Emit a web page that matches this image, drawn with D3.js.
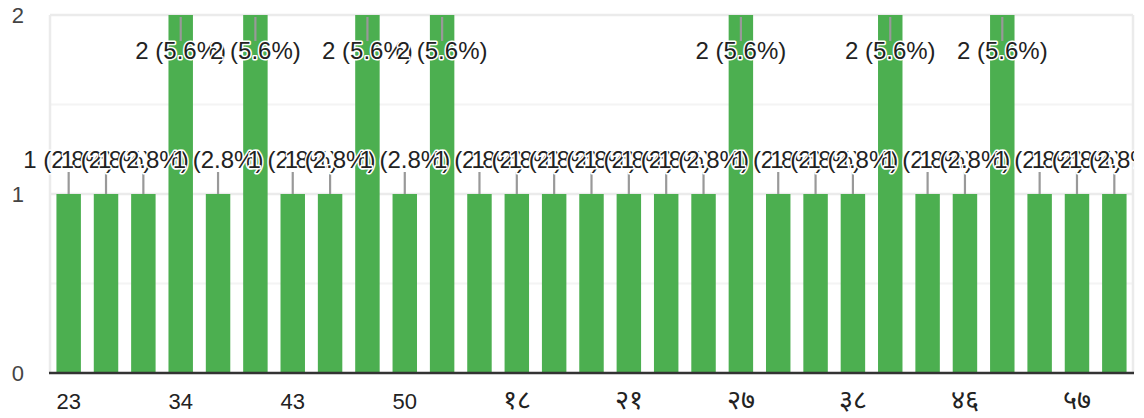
<!DOCTYPE html>
<html>
<head>
<meta charset="utf-8">
<script src="https://cdn.jsdelivr.net/npm/d3@7"></script>
<style>
  body { margin: 0; background: #fff; }
  svg { display: block; font-family: Arial, "Liberation Sans", sans-serif; }
</style>
</head>
<body>
<div id="chart"></div>
<script>
const categories = ["23", "25", "28", "34", "35", "40", "43", "45", "48", "50", "55", "60",
    "१८", "१९", "२०", "२१", "२२", "२५", "२७", "३०", "३५", "३८", "४०", "४५", "४६", "५०", "५५", "५७", "६०"];
const counts = [1, 1, 1, 2, 1, 2, 1, 1, 2, 1, 2, 1, 1, 1, 1, 1, 1, 1, 2, 1, 1, 1, 2, 1, 1, 2, 1, 1, 1];
const yTicks = [0, 1, 2];
const yMinorTicks = [0.5, 1.5];

const width = 1144, height = 418;
const area = { left: 50, right: 1133, top: 15, bottom: 373 };

const data = categories.map((c, i) => ({ label: c, value: counts[i] }));
const total = d3.sum(counts);

const svg = d3.select("#chart")
    .append("svg")
    .attr("width", width)
    .attr("height", height);

const x = d3.scaleBand()
    .domain(data.map(d => d.label))
    .range([area.left, area.right])
    .paddingInner(0.345)
    .paddingOuter(0.1725);

const y = d3.scaleLinear()
    .domain([0, 2])
    .range([area.bottom, area.top]);

// minor gridlines
svg.append("g")
    .selectAll("line")
    .data(yMinorTicks)
    .enter().append("line")
    .attr("x1", area.left).attr("x2", area.right)
    .attr("y1", d => y(d)).attr("y2", d => y(d))
    .attr("stroke", "#f4f4f4")
    .attr("stroke-width", 2);

// major gridlines
svg.append("g")
    .selectAll("line")
    .data(yTicks.filter(d => d > 0))
    .enter().append("line")
    .attr("x1", area.left).attr("x2", area.right)
    .attr("y1", d => y(d)).attr("y2", d => y(d))
    .attr("stroke", "#ebebeb")
    .attr("stroke-width", 2.5);

// side frame
svg.append("g")
    .selectAll("line")
    .data([area.left, area.right])
    .enter().append("line")
    .attr("x1", d => d).attr("x2", d => d)
    .attr("y1", area.top).attr("y2", area.bottom)
    .attr("stroke", "#ebebeb")
    .attr("stroke-width", 2.5);

// bars
svg.append("g")
    .selectAll("rect")
    .data(data)
    .enter().append("rect")
    .attr("x", d => x(d.label))
    .attr("width", x.bandwidth())
    .attr("y", d => y(d.value))
    .attr("height", d => area.bottom - y(d.value))
    .attr("fill", "#4caf50");

// baseline
svg.append("line")
    .attr("x1", area.left - 1).attr("x2", area.right + 1)
    .attr("y1", y(0)).attr("y2", y(0))
    .attr("stroke", "#333")
    .attr("stroke-width", 2.5);

// y axis labels
svg.append("g")
    .selectAll("text")
    .data(yTicks)
    .enter().append("text")
    .attr("x", 24)
    .attr("y", d => y(d))
    .attr("dy", "0.35em")
    .attr("text-anchor", "end")
    .attr("font-size", 22)
    .attr("fill", "#444")
    .text(d => d);

// x axis labels, every third category (devanagari fallback font runs small)
svg.append("g")
    .selectAll("text")
    .data(data.filter((d, i) => i % 3 === 0))
    .enter().append("text")
    .attr("x", d => x(d.label) + x.bandwidth() / 2)
    .attr("y", 409)
    .attr("text-anchor", "middle")
    .attr("font-size", d => /^[0-9]+$/.test(d.label) ? 22 : 27)
    .attr("fill", "#222")
    .text(d => d.label);

// annotations: stem + label, placed inside the bar when it reaches the top
svg.append("clipPath")
    .attr("id", "annoClip")
    .append("rect")
    .attr("x", 0).attr("y", 0)
    .attr("width", area.right + 1).attr("height", height);

const stemLen = 22;
const anno = svg.append("g").attr("clip-path", "url(#annoClip)");

function inside(d) {
    return y(d.value) - stemLen - 26 < area.top;
}

anno.selectAll("line")
    .data(data)
    .enter().append("line")
    .attr("x1", d => x(d.label) + x.bandwidth() / 2)
    .attr("x2", d => x(d.label) + x.bandwidth() / 2)
    .attr("y1", d => y(d.value) + (inside(d) ? 2 : 0))
    .attr("y2", d => inside(d) ? y(d.value) + 26 : y(d.value) - stemLen)
    .attr("stroke", "#999")
    .attr("stroke-width", 2.2);

anno.selectAll("text")
    .data(data)
    .enter().append("text")
    .attr("x", d => x(d.label) + x.bandwidth() / 2)
    .attr("y", d => inside(d) ? y(d.value) + 44 : y(d.value) - 26)
    .attr("text-anchor", "middle")
    .attr("font-size", 24)
    .attr("fill", "#222")
    .attr("stroke", "#fff")
    .attr("stroke-width", 3)
    .attr("paint-order", "stroke")
    .attr("stroke-linejoin", "round")
    .text(d => d.value + " (" + (d.value / total * 100).toFixed(1) + "%)");
</script>
</body>
</html>
